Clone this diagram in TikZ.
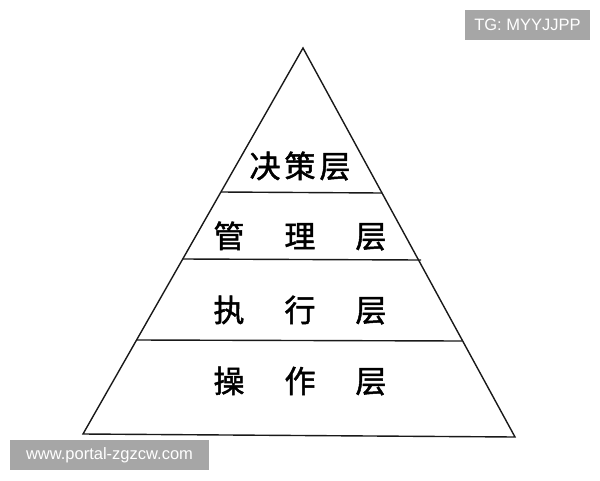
\documentclass[tikz,border=0pt]{standalone}
\usepackage{fontspec}
\setsansfont{Liberation Sans}
\newfontfamily\cjk{Noto Sans CJK SC}[FakeBold=1.6]
\usetikzlibrary{positioning}

\begin{document}
\begin{tikzpicture}[x=1pt,y=-1pt,
    edge/.style={draw=black!90, line width=1.4pt, line join=miter},
    layer/.style={font=\cjk\fontsize{31}{31}\selectfont, inner sep=0pt},
    tag/.style={fill=black!35, text=white, inner sep=0pt, minimum height=30pt,
    font=\sffamily\fontsize{16.5}{16.5}\selectfont}]
\useasboundingbox (0,0) rectangle (600,480);
\fill[white] (0,0) rectangle (600,480);
\coordinate (apex)  at (303,48);
\coordinate (left)  at (83,434);
\coordinate (right) at (515,437);
\coordinate (l1) at (221,192);
\coordinate (r1) at (382,193);
\coordinate (l2) at (183,259);
\coordinate (r2) at (421,260);
\coordinate (l3) at (137,340);
\coordinate (r3) at (462,341);

\draw[edge] (apex) -- (left) -- (right) -- cycle;
\draw[edge] (l1) -- (r1);
\draw[edge] (l2) -- (r2);
\draw[edge] (l3) -- (r3);

\node[layer] (decide)  at (300,166) {决\hspace{4pt}策\hspace{4pt}层};
\node[layer] (manage)  at (300,236) {管\hspace{40pt}理\hspace{40pt}层};
\node[layer] (execute) at (300,310) {执\hspace{40pt}行\hspace{40pt}层};
\node[layer] (operate) at (300,381) {操\hspace{40pt}作\hspace{40pt}层};

\node[tag, minimum width=125pt] (tg)  at (527.5,25) {TG: MYYJJPP};
\node[tag, minimum width=199pt] (www) at (109.5,455) {www.portal-zgzcw.com};
\end{tikzpicture}
\end{document}
